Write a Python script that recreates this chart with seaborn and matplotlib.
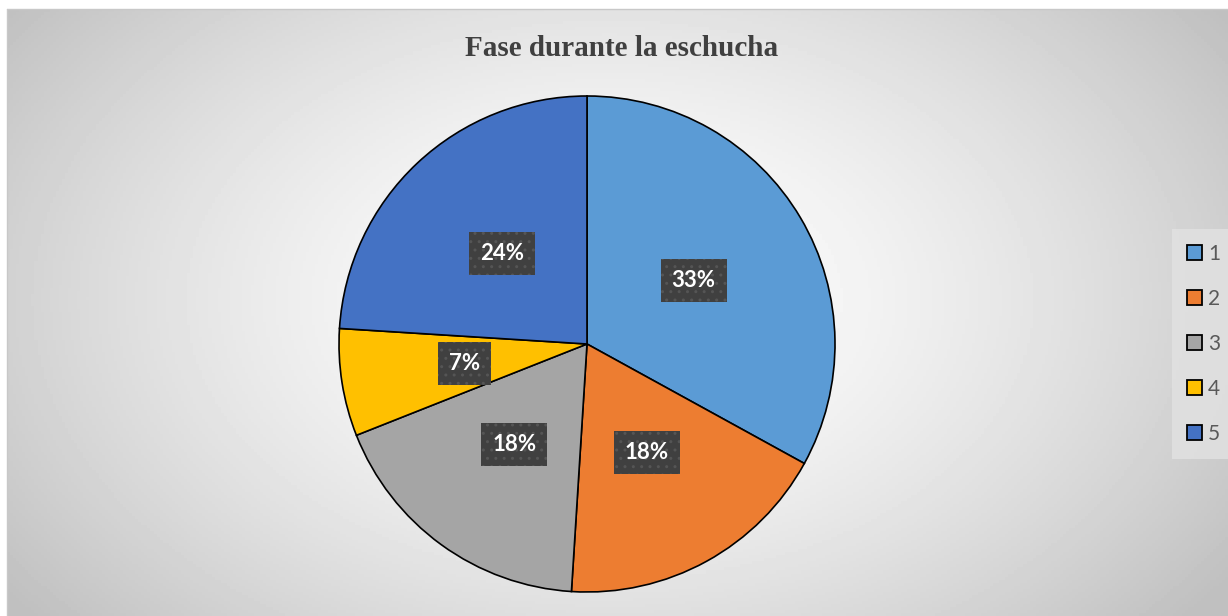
import numpy as np
import matplotlib
matplotlib.use("Agg")
import matplotlib.pyplot as plt
import seaborn as sns

# data
categories = ["1", "2", "3", "4", "5"]
shares = [33, 18, 18, 7, 24]
slice_colors = ["#5B9BD5", "#ED7D31", "#A5A5A5", "#FFC000", "#4472C4"]
title_text = "Fase durante la eschucha"

sns.set_theme(style="white")
plt.rcParams["font.family"] = ["Lato", "DejaVu Sans"]
palette = sns.color_palette(slice_colors)

W, H = 1228, 616
fig = plt.figure(figsize=(W / 100, H / 100), dpi=100)

# background: white strip top/left, then chart area with radial gradient
bg = fig.add_axes([0, 0, 1, 1])
bg.set_xlim(0, W)
bg.set_ylim(H, 0)
bg.axis("off")
x0, y0 = 7, 9
xx, yy = np.meshgrid(np.linspace(x0, W, 400), np.linspace(y0, H, 200))
cx, cy = 610, 300
r = np.sqrt(((xx - cx) / 650) ** 2 + ((yy - cy) / 430) ** 2)
shade = 1.0 - 0.2 * np.clip(r, 0, 1.15) ** 1.5
bg.imshow(shade, cmap="gray", vmin=0, vmax=1, extent=[x0, W, H, y0], aspect="auto")
bg.plot([x0, W], [y0, y0], color="#c8c8c8", lw=1)
bg.plot([x0, x0], [y0, H], color="#c8c8c8", lw=1)

# pie axes
pcx, pcy, rad = 587, 344, 248
ax = fig.add_axes([(pcx - rad) / W, (H - pcy - rad) / H, 2 * rad / W, 2 * rad / H])
ax.set_facecolor("none")
wedges, texts, autotexts = ax.pie(
    shares,
    colors=palette,
    startangle=90,
    counterclock=False,
    autopct=lambda p: f"{p:.0f}%",
    pctdistance=0.5,
    wedgeprops=dict(edgecolor="black", linewidth=1.2),
    textprops=dict(color="white", fontsize=16, fontweight="bold"),
)
for t in autotexts:
    t.set_bbox(dict(boxstyle="square,pad=0.5", facecolor="#404040",
                    edgecolor="#555555", hatch="..", linewidth=0))
ax.set_aspect("equal")
ax.set_xlim(-1, 1)
ax.set_ylim(-1, 1)

fig.text(622 / W, 1 - 48 / H, title_text, ha="center", va="center",
         fontsize=21, fontweight="bold", color="#404040",
         family=["Liberation Serif", "DejaVu Serif"])

leg = fig.legend(wedges, categories, loc="center left",
                 bbox_to_anchor=(1162 / W, 1 - 344 / H),
                 frameon=True, fontsize=15, labelspacing=1.2,
                 handlelength=0.7, handleheight=0.7, handletextpad=0.3,
                 borderpad=0.7, fancybox=False)
leg.get_frame().set_facecolor("#e2e2e2")
leg.get_frame().set_edgecolor("none")
for t in leg.get_texts():
    t.set_color("#595959")
for h in leg.legend_handles:
    h.set_edgecolor("black")
    h.set_linewidth(1.3)

fig.savefig("out.png", dpi=100)
